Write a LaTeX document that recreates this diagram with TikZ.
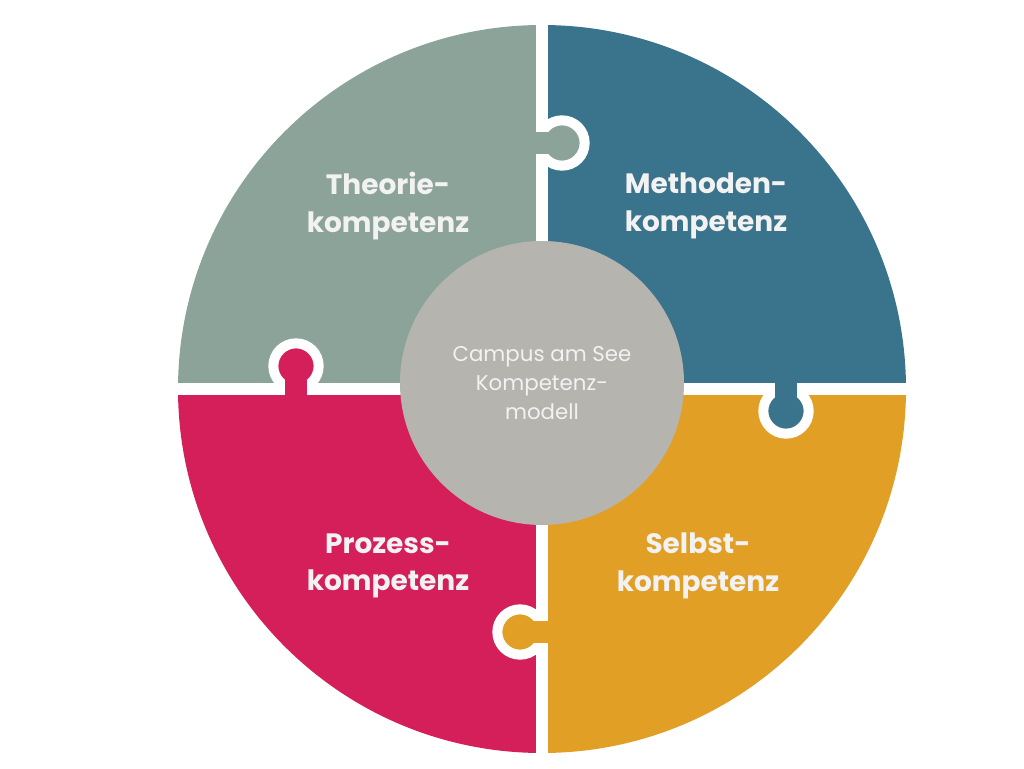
\documentclass[tikz,border=0pt]{standalone}
\usepackage{fontspec}
\setmainfont{Poppins}
\definecolor{theorie}{HTML}{8CA399}
\definecolor{methoden}{HTML}{3A738C}
\definecolor{selbst}{HTML}{E29F26}
\definecolor{prozess}{HTML}{D41F5B}
\definecolor{mitte}{HTML}{B5B4AF}
\tikzstyle{label}=[text=white!95!black,font=\bfseries\fontsize{21}{28}\selectfont,align=center]
\tikzstyle{knob}=[circle,minimum size=34pt,inner sep=0pt,draw=white,line width=7.5pt]
\tikzstyle{gap}=[draw=white,line width=9pt]
\begin{document}
\begin{tikzpicture}[x=0.75pt,y=-0.75pt]
    \useasboundingbox (0,0) rectangle (1024,768);
    \coordinate (C) at (542,389);
    % First we fill the four quarters
    \foreach \col/\a in {theorie/180, methoden/270, selbst/0, prozess/90}
        \fill[\col] (C) -- ++(\a:364) arc[start angle=\a,end angle=\a+90,radius=364] -- cycle;
    % The white gaps between them
    \path[gap] (542,15) -- (542,763);
    \path[gap] (168,389) -- (916,389);
    % Then the puzzle knobs
    \foreach \pos/\col/\name in {{(562,143)/theorie/kt}, {(296,366)/prozess/kp}, {(786,411)/methoden/km}, {(520,632)/selbst/ks}}
        \node[knob,fill=\col] (\name) at \pos {};
    \fill[theorie] (530,132) rectangle (548,154);
    \fill[prozess] (285,377) rectangle (307,396);
    \fill[methoden] (775,382) rectangle (797,400);
    \fill[selbst] (532,621) rectangle (554,643);
    % Centre and labels
    \node[circle,fill=mitte,minimum size=213pt,inner sep=0pt] (centre) at (542,383) {};
    \node[text=white!95!black,font=\fontsize{16}{22}\selectfont,align=center] (modell) at (centre) {Campus am See\\Kompetenz-\\modell};
    \node[label] (theorie) at (388,206) {Theorie-\\kompetenz};
    \node[label] (methoden) at (706,206) {Methoden-\\kompetenz};
    \node[label] (prozess) at (388,566) {Prozess-\\kompetenz};
    \node[label] (selbst) at (698,566) {Selbst-\\kompetenz};
\end{tikzpicture}
\end{document}
